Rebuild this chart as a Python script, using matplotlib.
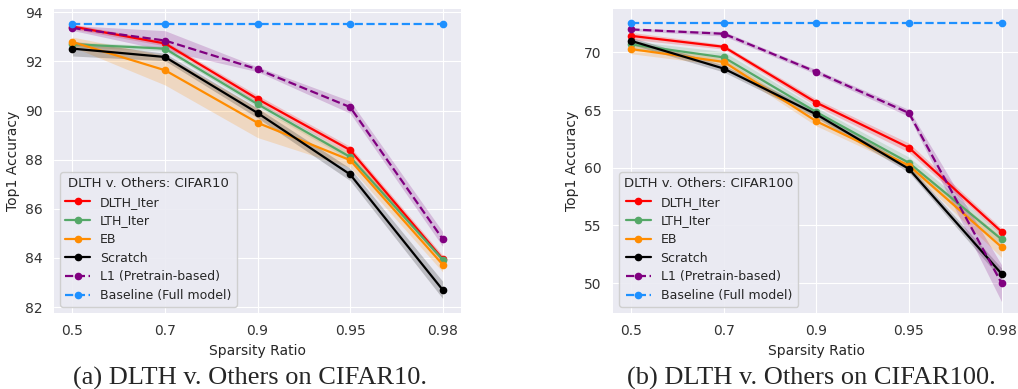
import numpy as np
from matplotlib import pyplot as plt

sparsity = ["0.5", "0.7", "0.9", "0.95", "0.98"]
methods = ["DLTH_Iter", "LTH_Iter", "EB", "Scratch", "L1 (Pretrain-based)", "Baseline (Full model)"]
colors = ["red", "#55a868", "darkorange", "black", "purple", "dodgerblue"]
styles = ["-", "-", "-", "-", "--", "--"]

# CIFAR10 means / stds
c10_dlth = [93.42, 92.73, 90.47, 88.39, 83.96]
c10_lth = [92.70, 92.52, 90.26, 88.11, 83.93]
c10_eb = [92.79, 91.64, 89.50, 87.98, 83.73]
c10_scratch = [92.52, 92.18, 89.90, 87.40, 82.70]
c10_l1 = [93.36, 92.85, 91.68, 90.14, 84.77]
c10_base = [93.52, 93.52, 93.52, 93.52, 93.52]

c10_dlth_std = [0.10, 0.10, 0.15, 0.15, 0.15]
c10_lth_std = [0.10, 0.10, 0.12, 0.12, 0.10]
c10_eb_std = [0.20, 0.60, 0.60, 0.30, 0.30]
c10_scratch_std = [0.30, 0.15, 0.20, 0.25, 0.35]
c10_l1_std = [0.10, 0.40, 0.10, 0.25, 0.30]

# CIFAR100 means / stds
c100_dlth = [71.44, 70.49, 65.65, 61.74, 54.46]
c100_lth = [70.70, 69.57, 64.83, 60.43, 53.80]
c100_eb = [70.29, 69.18, 64.03, 60.20, 53.13]
c100_scratch = [71.00, 68.60, 64.63, 59.90, 50.82]
c100_l1 = [72.00, 71.62, 68.31, 64.75, 50.00]
c100_base = [72.57, 72.57, 72.57, 72.57, 72.57]

c100_dlth_std = [0.30, 0.20, 0.30, 0.40, 0.30]
c100_lth_std = [0.30, 0.50, 0.40, 0.50, 0.50]
c100_eb_std = [0.40, 0.30, 0.40, 0.30, 0.90]
c100_scratch_std = [0.30, 0.30, 0.30, 0.30, 0.50]
c100_l1_std = [0.10, 0.20, 0.20, 0.30, 1.60]

plt.style.use("seaborn-v0_8-darkgrid")
plt.rcParams["font.family"] = "DejaVu Sans"


def draw(ax, means, stds, title, yticks, ylim):
    x = np.arange(len(sparsity))
    for i, m in enumerate(means):
        ax.plot(x, m, color=colors[i], ls=styles[i], marker="o", ms=4.5,
                lw=1.6, label=methods[i])
        if stds[i] is not None:
            m = np.array(m)
            s = np.array(stds[i])
            ax.fill_between(x, m - s, m + s, color=colors[i], alpha=0.2, lw=0)
    ax.set_xticks(x)
    ax.set_xticklabels(sparsity)
    ax.set_yticks(yticks)
    ax.set_ylim(ylim)
    ax.set_xlim(-0.2, 4.2)
    ax.tick_params(axis="both", labelsize=10, colors="#333333", pad=8)
    ax.set_xlabel("Sparsity Ratio", fontsize=10, color="#262626")
    ax.set_ylabel("Top1 Accuracy", fontsize=10, color="#262626")
    leg = ax.legend(title=title, loc="lower left", fontsize=9,
                    title_fontsize=9.5, frameon=True, borderaxespad=0.5,
                    labelspacing=0.45)
    leg.get_frame().set_facecolor("#EAEAF2")
    leg.get_frame().set_edgecolor("#CCCCCC")
    leg.get_frame().set_alpha(0.9)


fig = plt.figure(figsize=(10.18, 3.89), dpi=100)
ax1 = fig.add_axes([0.053, 0.195, 0.400, 0.781])
ax2 = fig.add_axes([0.602, 0.195, 0.400, 0.781])

draw(ax1,
     [c10_dlth, c10_lth, c10_eb, c10_scratch, c10_l1, c10_base],
     [c10_dlth_std, c10_lth_std, c10_eb_std, c10_scratch_std, c10_l1_std, None],
     "DLTH v. Others: CIFAR10", [82, 84, 86, 88, 90, 92, 94], (81.75, 94.12))
draw(ax2,
     [c100_dlth, c100_lth, c100_eb, c100_scratch, c100_l1, c100_base],
     [c100_dlth_std, c100_lth_std, c100_eb_std, c100_scratch_std, c100_l1_std, None],
     "DLTH v. Others: CIFAR100", [50, 55, 60, 65, 70], (47.4, 73.74))

fig.text(0.246, 0.012, "(a) DLTH v. Others on CIFAR10.", ha="center", va="baseline",
         family="Liberation Serif", fontsize=19)
fig.text(0.797, 0.012, "(b) DLTH v. Others on CIFAR100.", ha="center", va="baseline",
         family="Liberation Serif", fontsize=19)

fig.savefig("out.png", dpi=100)
